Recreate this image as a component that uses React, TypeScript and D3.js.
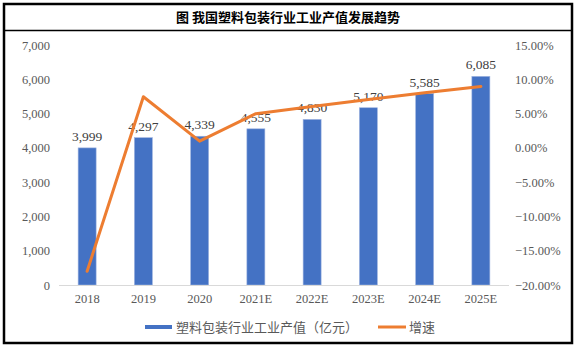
import React from "react";
import * as d3 from "d3";

const categories = ["2018", "2019", "2020", "2021E", "2022E", "2023E", "2024E", "2025E"];
const outputValues = [3999, 4297, 4339, 4555, 4830, 5170, 5585, 6085];
const growthValues = [-18.0, 7.45, 0.98, 4.98, 6.04, 7.04, 8.03, 8.95];
const leftTicks = [0, 1000, 2000, 3000, 4000, 5000, 6000, 7000];
const rightTicks = [-20, -15, -10, -5, 0, 5, 10, 15];
const title = "图  我国塑料包装行业工业产值发展趋势";
const legendBar = "塑料包装行业工业产值（亿元）";
const legendLine = "增速";

const W = 575;
const H = 346;
const plot = { left: 59, right: 509, top: 45, bottom: 285 };
const serif = "'Liberation Serif', 'DejaVu Serif', serif";
const cjk = "'Noto Sans CJK SC', sans-serif";

export default function App() {
  const x = d3.scaleBand().domain(categories).range([plot.left, plot.right]).paddingInner(0.68).paddingOuter(0.34);
  const yL = d3.scaleLinear().domain([0, 7000]).range([plot.bottom, plot.top]);
  const yR = d3.scaleLinear().domain([-20, 15]).range([plot.bottom, plot.top]);
  const fmt = d3.format(",");
  const line = d3
    .line<number>()
    .x((_, i) => (x(categories[i]) as number) + x.bandwidth() / 2)
    .y((d) => yR(d));

  return (
    <svg width={W} height={H} style={{ position: "absolute", left: 0, top: 0, background: "#fff" }}>
      <rect x={0} y={0} width={W} height={H} fill="#fff" />
      <rect x={4} y={4} width={568} height={339} fill="none" stroke="#000" strokeWidth={2.5} />
      <line x1={4} x2={572} y1={30.5} y2={30.5} stroke="#000" strokeWidth={1.3} />
      <text x={288} y={21.5} textAnchor="middle" fontFamily={cjk} fontWeight="bold" fontSize={13} fill="#000">
        {title}
      </text>

      {leftTicks.map((t) => (
        <text key={"l" + t} x={50} y={yL(t) + 4.5} textAnchor="end" fontFamily={serif} fontSize={12.5} fill="#595959">
          {fmt(t)}
        </text>
      ))}
      {rightTicks.map((t) => (
        <text key={"r" + t} x={515} y={yR(t) + 4.5} textAnchor="start" fontFamily={serif} fontSize={12.5} fill="#595959">
          {d3.format(".2f")(t) + "%"}
        </text>
      ))}

      {categories.map((c, i) => (
        <g key={c}>
          <rect
            x={x(c)}
            y={yL(outputValues[i])}
            width={x.bandwidth()}
            height={plot.bottom - yL(outputValues[i])}
            fill="#4472C4"
            stroke="#9fb4e0"
            strokeWidth={0.6}
          />
          <text
            x={(x(c) as number) + x.bandwidth() / 2}
            y={yL(outputValues[i]) - 7}
            textAnchor="middle"
            fontFamily={serif}
            fontSize={13.5}
            fill="#404040"
          >
            {fmt(outputValues[i])}
          </text>
          <text
            x={(x(c) as number) + x.bandwidth() / 2}
            y={303}
            textAnchor="middle"
            fontFamily={serif}
            fontSize={12.5}
            fill="#595959"
          >
            {c}
          </text>
        </g>
      ))}

      <line x1={plot.left} x2={plot.right} y1={plot.bottom + 0.5} y2={plot.bottom + 0.5} stroke="#d9d9d9" strokeWidth={1} />

      <path d={line(growthValues) || ""} fill="none" stroke="#ED7D31" strokeWidth={3} strokeLinejoin="round" strokeLinecap="round" />

      <line x1={145} x2={172} y1={327} y2={327} stroke="#4472C4" strokeWidth={4} />
      <text x={176} y={331.5} fontFamily={cjk} fontSize={13} fill="#595959">
        {legendBar}
      </text>
      <line x1={378} x2={406} y1={327} y2={327} stroke="#ED7D31" strokeWidth={3} />
      <text x={409} y={331.5} fontFamily={cjk} fontSize={13} fill="#595959">
        {legendLine}
      </text>
    </svg>
  );
}
